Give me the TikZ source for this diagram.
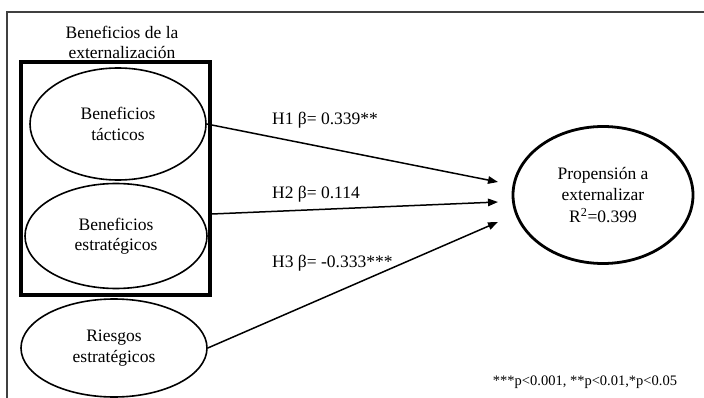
\documentclass[tikz,border=0pt]{standalone}
\usepackage{fontspec}
\setmainfont{Liberation Serif}
\usetikzlibrary{shapes.geometric,arrows.meta}
\tikzset{
  construct/.style={draw, ellipse, line width=1.6pt, inner sep=0pt, align=center,
    font=\fontsize{17.5}{20.5}\selectfont},
  path/.style={line width=1.5pt, -{Triangle[length=10pt,width=7.5pt]}},
  coef/.style={anchor=west, inner sep=0pt, font=\fontsize{17.5}{20}\selectfont},
}
\begin{document}
\begin{tikzpicture}[x=1pt,y=-1pt]
  \useasboundingbox (0,0) rectangle (704,398);
  % open frame: top and left edges only
  \draw[line width=1.2pt, black!75] (704,12) -- (7,12) -- (7,398);
  % group box around the two benefit constructs
  \node[draw, line width=3.5pt, minimum width=189pt, minimum height=233pt, inner sep=0pt]
    (box) at (115.5,178.5) {};
  \node[align=center, font=\fontsize{17.5}{20}\selectfont] (title) at (122,42)
    {Beneficios de la\\externalización};
  % constructs
  \node[construct, minimum width=176pt, minimum height=112pt] (tac) at (118,124)
    {Beneficios\\tácticos};
  \node[construct, minimum width=182pt, minimum height=105pt] (est) at (116,236)
    {Beneficios\\estratégicos};
  \node[construct, minimum width=186pt, minimum height=98pt] (rie) at (114,348)
    {Riesgos\\estratégicos};
  \node[construct, line width=2.8pt, minimum width=180pt, minimum height=137pt,
    font=\fontsize{17.5}{21.5}\selectfont] (prop) at (603,195)
    {Propensión a\\externalizar\\R\textsuperscript{2}=0.399};
  % arrow ends stop short of the dependent construct
  \coordinate (t1) at (498,182);
  \coordinate (t2) at (498,202);
  \coordinate (t3) at (498,222);
  \coordinate (s2) at (box.east |- 0,214);
  \draw[path] (tac.east) -- (t1);
  \draw[path] (s2) -- (t2);
  \draw[path] (rie.east) -- (t3);
  % path coefficients
  \node[coef] (h1) at (272,120) {H1 β= 0.339**};
  \node[coef] (h2) at (272,194) {H2 β= 0.114};
  \node[coef] (h3) at (272,263) {H3 β= -0.333***};
  % significance note
  \node[font=\fontsize{14.5}{17}\selectfont] (note) at (585,382)
    {***p<0.001, **p<0.01,*p<0.05};
\end{tikzpicture}
\end{document}
